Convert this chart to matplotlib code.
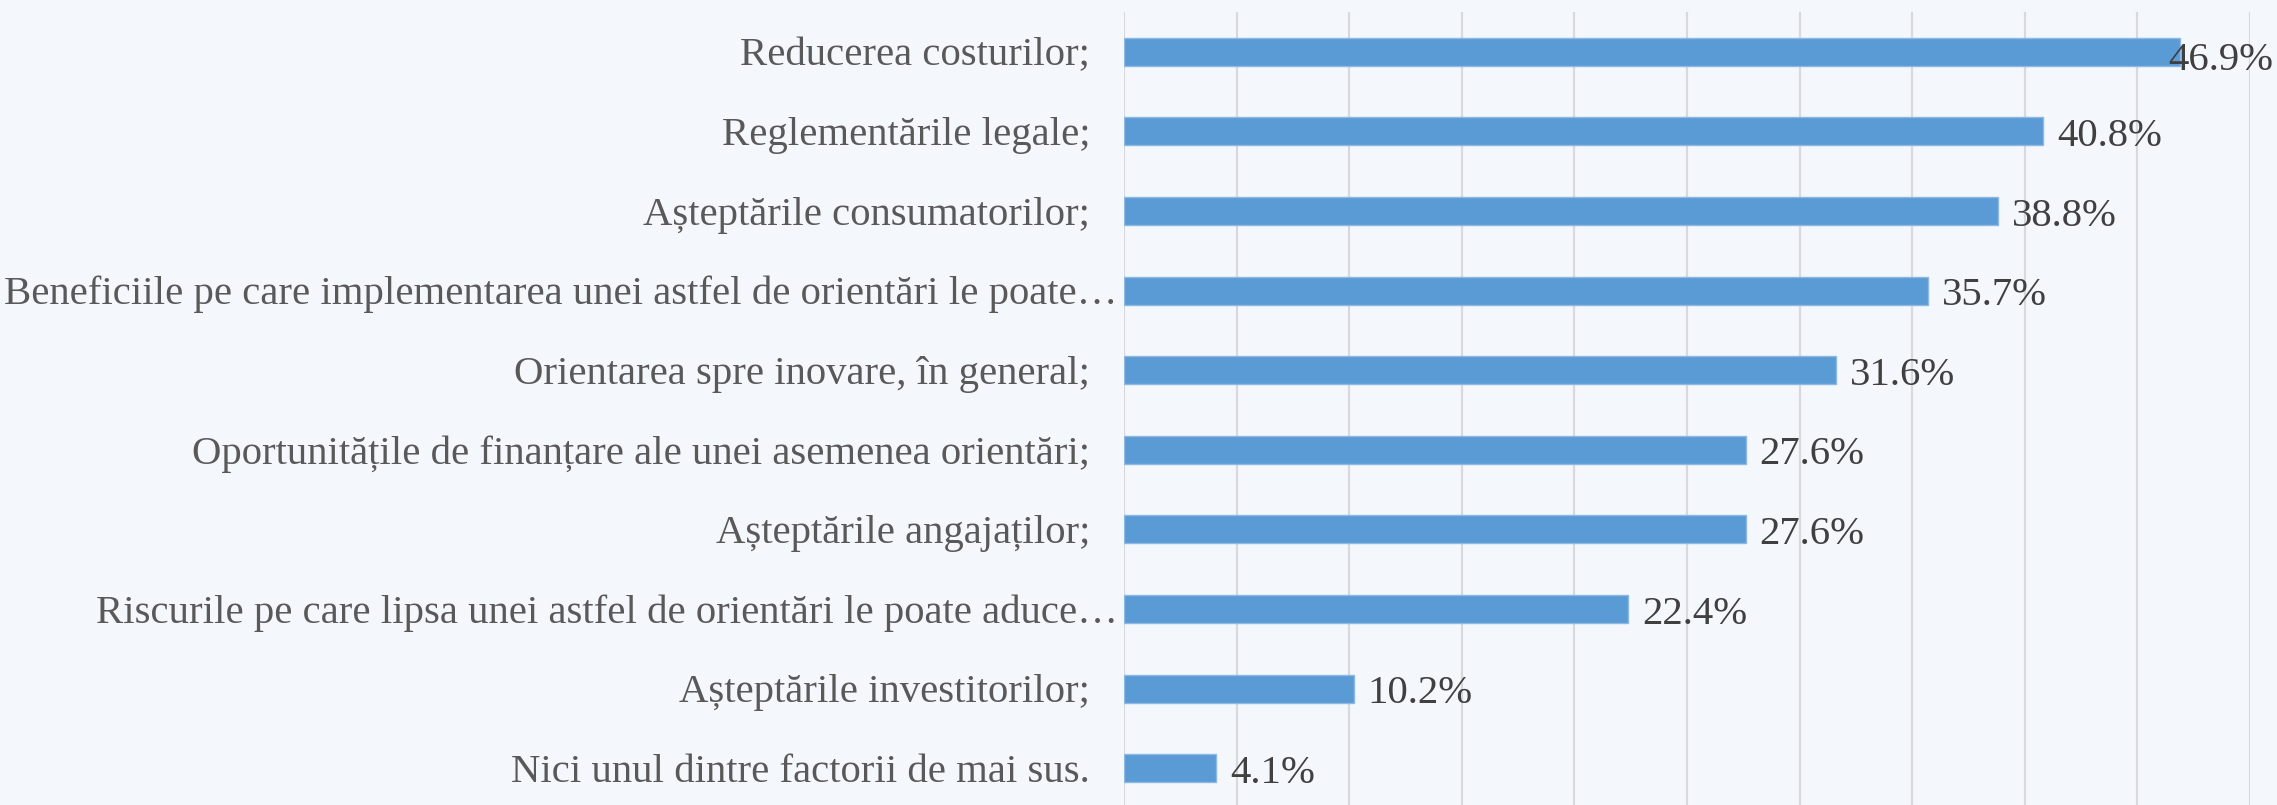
import matplotlib.pyplot as plt
from matplotlib.transforms import offset_copy

categories = [
    "Reducerea costurilor;",
    "Reglementările legale;",
    "Așteptările consumatorilor;",
    "Beneficiile pe care implementarea unei astfel de orientări le poate…",
    "Orientarea spre inovare, în general;",
    "Oportunitățile de finanțare ale unei asemenea orientări;",
    "Așteptările angajaților;",
    "Riscurile pe care lipsa unei astfel de orientări le poate aduce…",
    "Așteptările investitorilor;",
    "Nici unul dintre factorii de mai sus.",
]
values = [46.9, 40.8, 38.8, 35.7, 31.6, 27.6, 27.6, 22.4, 10.2, 4.1]

BG = "#F4F8FC"
BAR = "#5B9BD5"
GRID = "#D9D9D9"

plt.rcParams["font.family"] = ["Liberation Serif", "DejaVu Serif"]

fig = plt.figure(figsize=(22.77, 8.05), dpi=100, facecolor=BG)
ax = fig.add_axes([1124 / 2277, -3 / 805, 1126 / 2277, 796 / 805])
ax.set_facecolor(BG)

y = list(range(len(categories)))
ax.barh(y, values, height=0.35, color=BAR, edgecolor="#8DB8E3", linewidth=1, zorder=3)
ax.set_xlim(0, 50)
ax.set_ylim(len(categories) - 0.5, -0.5)

ax.set_xticks(range(0, 51, 5))
ax.xaxis.grid(True, color=GRID, linewidth=1.6, zorder=0)
ax.tick_params(axis="x", length=0, labelbottom=False)
ax.set_yticks([])
for s in ax.spines.values():
    s.set_visible(False)

# category labels; truncated ones sit closer to the axis (no trailing space)
trans = ax.get_yaxis_transform()
for yi, cat in zip(y, categories):
    pad = 6 if cat.endswith("…") else 34
    ax.text(0, yi, cat, transform=offset_copy(trans, fig, x=-pad, y=-4, units="dots"),
            ha="right", va="center", fontsize=29.3, color="#595959")

for yi, v in zip(y, values):
    off = 14 if v < 45 else -12
    dy = -5 if v < 45 else -9
    ax.annotate(f"{v:.1f}%", (v, yi), xytext=(off, dy), textcoords="offset pixels",
                ha="left", va="center", fontsize=29.3, color="#404040", zorder=4)

fig.savefig("out.png", dpi=100, facecolor=BG)
